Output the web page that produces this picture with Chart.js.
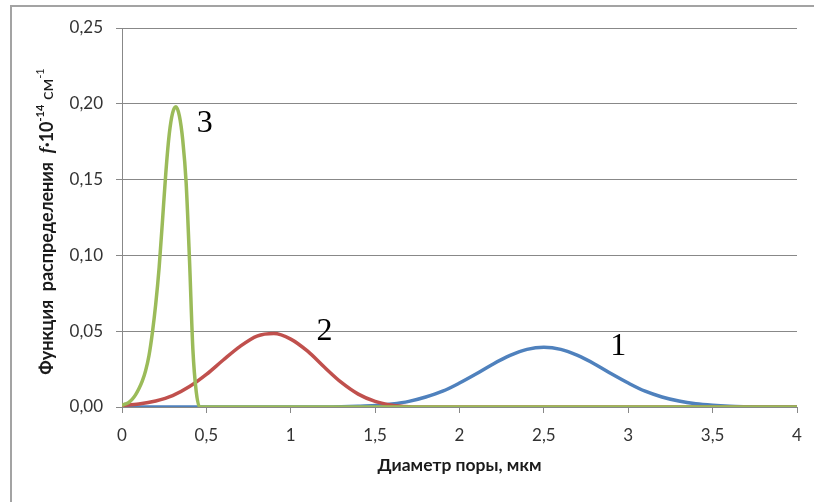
<!DOCTYPE html>
<html>
<head>
<meta charset="utf-8">
<script src="https://cdn.jsdelivr.net/npm/chart.js@4/dist/chart.umd.min.js"></script>
<style>
  html, body { margin: 0; padding: 0; background: #fff; }
  #wrap { width: 814px; height: 502px; }
</style>
</head>
<body>
<div id="wrap"><canvas id="c" width="814" height="502"></canvas></div>
<script>
// Pore-size distribution curves (diameter in µm, f·10^-14 cm^-1)

// Curve 1
const diam1 = [0, 0.5, 1.0, 1.3, 1.4, 1.5, 1.6, 1.7, 1.8, 1.9, 2.0, 2.1, 2.2, 2.3, 2.4, 2.5,
               2.6, 2.7, 2.8, 2.9, 3.0, 3.1, 3.2, 3.3, 3.4, 3.5, 3.6, 3.7, 3.8, 4.0];
const dist1 = [0, 0, 0, 0.0002, 0.0005, 0.001, 0.002, 0.0037, 0.0066, 0.0104, 0.0158, 0.0219, 0.0284, 0.0340, 0.0380, 0.0394,
               0.0380, 0.0340, 0.0284, 0.0219, 0.0158, 0.0104, 0.0066, 0.0039, 0.0021, 0.0011, 0.0005, 0.0002, 0, 0];

// Curve 2
const diam2 = [0, 0.1, 0.2, 0.3, 0.4, 0.5, 0.6, 0.7, 0.8, 0.9, 1.0, 1.1, 1.2, 1.3, 1.4, 1.5, 1.6, 1.7, 1.8, 2.5, 3.0, 3.5, 4.0];
const dist2 = [0.001, 0.002, 0.004, 0.0075, 0.0135, 0.0215, 0.031, 0.040, 0.0468, 0.0485, 0.0448, 0.0368, 0.0262, 0.0162, 0.0085, 0.0037, 0.0012, 0.0002, 0, 0, 0, 0, 0];

// Curve 3
const diam3 = [0, 0.02, 0.04, 0.06, 0.08, 0.10, 0.12, 0.14, 0.16, 0.18, 0.20, 0.22, 0.24, 0.26, 0.28, 0.30,
               0.32, 0.34, 0.36, 0.38, 0.40, 0.42, 0.44, 0.46, 0.5, 1.0, 1.5, 2.0, 2.5, 3.0, 3.5, 4.0];
const dist3 = [0.001, 0.002, 0.003, 0.005, 0.008, 0.012, 0.017, 0.024, 0.034, 0.049, 0.068, 0.092, 0.123, 0.155, 0.180, 0.194,
               0.198, 0.192, 0.176, 0.148, 0.097, 0.038, 0.010, 0, 0, 0, 0, 0, 0, 0, 0, 0];

// Curve numbers and where they sit (data coordinates)
const curveNames = ['1', '2', '3'];
const nameAtX = [2.94, 1.20, 0.49];
const nameAtY = [0.0396, 0.0495, 0.1867];

const xTitle = 'Диаметр поры, мкм';

const pts = (xs, ys) => xs.map((x, i) => ({ x: x, y: ys[i] }));
const comma = s => s.replace('.', ',');

const tickFont = { family: 'Lato', size: 17 };
const tickColor = '#333333';
const gridColor = '#888888';

// Thin grey frame along the left and top edges
const framePlugin = {
  id: 'frame',
  beforeDraw(chart) {
    const c = chart.ctx;
    c.save();
    c.strokeStyle = '#a3a3a3';
    c.lineWidth = 2;
    c.beginPath();
    c.moveTo(11, chart.height);
    c.lineTo(11, 6);
    c.lineTo(chart.width, 6);
    c.stroke();
    c.restore();
  }
};

// Curve numbers drawn next to each curve
const curveNamePlugin = {
  id: 'curveNames',
  afterDatasetsDraw(chart) {
    const c = chart.ctx, xs = chart.scales.x, ys = chart.scales.y;
    c.save();
    c.font = '32px "Liberation Serif"';
    c.fillStyle = '#000';
    c.textAlign = 'center';
    c.textBaseline = 'middle';
    curveNames.forEach((t, i) => {
      c.fillText(t, xs.getPixelForValue(nameAtX[i]), ys.getPixelForValue(nameAtY[i]));
    });
    c.restore();
  }
};

// Rotated y-axis title with italic symbol and superscripts
const yTitlePlugin = {
  id: 'yTitle',
  afterDraw(chart) {
    const c = chart.ctx;
    const ca = chart.chartArea;
    const parts = [
      { t: 'Функция  распределения  ', f: 'bold 18px Lato', dy: 0 },
      { t: 'f', f: 'italic bold 18px "Liberation Serif"', dy: 0 },
      { t: '·10', f: 'bold 18px Lato', dy: 0 },
      { t: '-14', f: 'bold 11px Lato', dy: -7 },
      { t: ' см', f: '18px Lato', dy: 0 },
      { t: '-1', f: '11px Lato', dy: -7 }
    ];
    c.save();
    let total = 0;
    parts.forEach(p => { c.font = p.f; p.w = c.measureText(p.t).width; total += p.w; });
    c.translate(47, (ca.top + ca.bottom) / 2 + 4);
    c.rotate(-Math.PI / 2);
    c.fillStyle = '#1a1a1a';
    c.textBaseline = 'middle';
    c.textAlign = 'left';
    let x = -total / 2;
    parts.forEach(p => { c.font = p.f; c.fillText(p.t, x, p.dy); x += p.w; });
    c.restore();
  }
};

const line = (data, color, order) => ({
  data: data,
  borderColor: color,
  backgroundColor: color,
  borderWidth: 3.5,
  pointRadius: 0,
  fill: false,
  cubicInterpolationMode: 'monotone',
  order: order
});

new Chart(document.getElementById('c'), {
  type: 'line',
  data: {
    datasets: [
      line(pts(diam1, dist1), '#4f81bd', 2),
      line(pts(diam2, dist2), '#c0504d', 1),
      line(pts(diam3, dist3), '#9bbb59', 0)
    ]
  },
  options: {
    responsive: false,
    animation: false,
    layout: { padding: { left: 0, right: 17, top: 28, bottom: 0 } },
    plugins: { legend: { display: false }, tooltip: { enabled: false } },
    scales: {
      x: {
        type: 'linear',
        min: 0, max: 4,
        ticks: {
          stepSize: 0.5,
          maxRotation: 0,
          padding: 12,
          font: tickFont,
          color: tickColor,
          callback: v => comma(String(Math.round(v * 10) / 10))
        },
        grid: { drawOnChartArea: false, drawTicks: true, tickLength: 6, color: gridColor },
        border: { color: gridColor, width: 1 },
        title: {
          display: true,
          text: xTitle,
          font: { family: 'Lato', size: 17.5, weight: 'bold' },
          color: '#1a1a1a',
          padding: { top: 0, bottom: 26 }
        },
        afterFit: s => { s.height = 95; }
      },
      y: {
        min: 0, max: 0.25,
        ticks: {
          stepSize: 0.05,
          padding: 13,
          font: tickFont,
          color: tickColor,
          callback: v => comma(v.toFixed(2))
        },
        grid: { color: gridColor, tickLength: 6 },
        border: { color: gridColor, width: 1 },
        afterFit: s => { s.width = 122; }
      }
    }
  },
  plugins: [framePlugin, curveNamePlugin, yTitlePlugin]
});
</script>
</body>
</html>
